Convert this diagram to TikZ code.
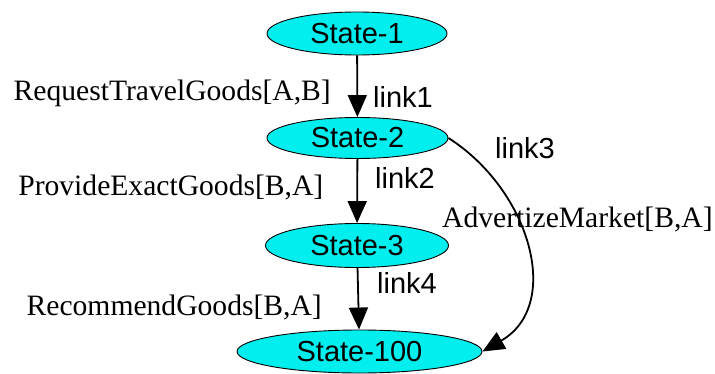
\documentclass[tikz,border=0pt]{standalone}
\usepackage{fontspec}
\setmainfont{Liberation Serif}
\setsansfont{Liberation Sans}
\usetikzlibrary{shapes.geometric,arrows.meta}
\definecolor{statecyan}{HTML}{00EEEE}
\begin{document}
\begin{tikzpicture}[x=1pt,y=-1pt,
  state/.style={ellipse,draw=black,line width=0.9pt,fill=statecyan,inner sep=0pt,
    font=\sffamily\fontsize{29}{29}\selectfont},
  trans/.style={draw=black,line width=1.8pt,-{Triangle[length=22pt,width=19pt]}},
  actlabel/.style={inner sep=0pt,anchor=base east,font=\rmfamily\fontsize{29.6}{29.6}\selectfont},
  linklabel/.style={inner sep=0pt,anchor=base west,font=\sffamily\fontsize{29}{29}\selectfont}]
\useasboundingbox (0,0) rectangle (715,374);

% states
\node[state,minimum width=180pt,minimum height=43pt] (s1)   at (357,33.5)  {State-1};
\node[state,minimum width=181pt,minimum height=41pt] (s2)   at (357.5,138) {State-2};
\node[state,minimum width=183pt,minimum height=44pt] (s3)   at (357,245.5) {State-3};
\node[state,minimum width=245pt,minimum height=43pt] (s100) at (359.5,351.5) {State-100};

% transitions
\draw[trans] (s1) -- (s2);
\draw[trans] (s2) -- (s3);
\draw[trans] (s3) -- (s100);
\draw[trans] (s2.east) .. controls (530,190) and (563,305) .. (s100.east);

% transition labels
\node[actlabel]  (l1a) at (331,100.5) {RequestTravelGoods[A,B]};
\node[linklabel] (l1b) at (373,108) {link1};
\node[actlabel]  (l2a) at (323.5,196) {ProvideExactGoods[B,A]};
\node[linklabel] (l2b) at (375,189) {link2};
\node[actlabel,anchor=base west] (l3a) at (442,228) {AdvertizeMarket[B,A]};
\node[linklabel] (l3b) at (495,159) {link3};
\node[linklabel] (l4b) at (377,293) {link4};
\node[actlabel]  (l4a) at (322,315) {RecommendGoods[B,A]};
\end{tikzpicture}
\end{document}
